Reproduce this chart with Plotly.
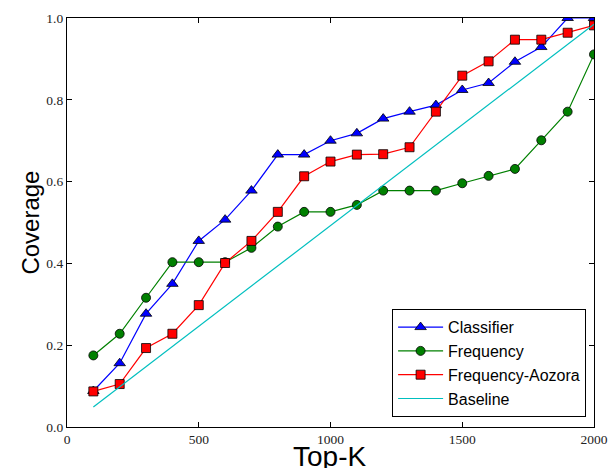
import plotly.graph_objects as go

topk = [100, 200, 300, 400, 500, 600, 700, 800, 900, 1000,
        1100, 1200, 1300, 1400, 1500, 1600, 1700, 1800, 1900, 2000]
classifier = [0.088, 0.156, 0.277, 0.350, 0.455, 0.507, 0.578, 0.666, 0.666, 0.700,
              0.718, 0.754, 0.771, 0.787, 0.824, 0.841, 0.893, 0.929, 1.000, 1.000]
frequency = [0.175, 0.228, 0.316, 0.403, 0.403, 0.403, 0.438, 0.490, 0.526, 0.526,
             0.543, 0.578, 0.578, 0.578, 0.596, 0.614, 0.631, 0.701, 0.771, 0.911]
freq_aozora = [0.087, 0.105, 0.193, 0.228, 0.298, 0.401, 0.455, 0.526, 0.613, 0.649,
               0.666, 0.667, 0.684, 0.771, 0.859, 0.894, 0.947, 0.947, 0.964, 0.982]
baseline_x = [100, 2000]
baseline_y = [0.049, 0.985]
x_title = "Top-K"
y_title = "Coverage"

fig = go.Figure()
fig.add_trace(go.Scatter(x=topk, y=classifier, mode="lines+markers", name="Classifier",
                         line=dict(color="#0000ff", width=1.2),
                         marker=dict(symbol="triangle-up", size=10, color="#0000ff",
                                     line=dict(color="black", width=0.8))))
fig.add_trace(go.Scatter(x=topk, y=frequency, mode="lines+markers", name="Frequency",
                         line=dict(color="#008000", width=1.2),
                         marker=dict(symbol="circle", size=9, color="#008000",
                                     line=dict(color="black", width=0.8))))
fig.add_trace(go.Scatter(x=topk, y=freq_aozora, mode="lines+markers", name="Frequency-Aozora",
                         line=dict(color="#ff0000", width=1.2),
                         marker=dict(symbol="square", size=9, color="#ff0000",
                                     line=dict(color="black", width=0.8))))
fig.add_trace(go.Scatter(x=baseline_x, y=baseline_y, mode="lines", name="Baseline",
                         line=dict(color="#00bfbf", width=1.2)))

axis_common = dict(showline=True, linecolor="black", linewidth=1.2, mirror="ticks",
                   ticks="inside", ticklen=5, tickcolor="black", showgrid=False,
                   zeroline=False, automargin=False,
                   tickfont=dict(family="Liberation Serif, serif", size=13.5, color="#222"))

fig.update_xaxes(range=[0, 2000], tickvals=[0, 500, 1000, 1500, 2000], **axis_common)
fig.update_yaxes(range=[0, 1.0], tickvals=[0, 0.2, 0.4, 0.6, 0.8, 1.0],
                 tickformat=".1f", ticklabelstandoff=0, **axis_common)

title_font = dict(family="Liberation Sans, Arial, sans-serif", color="black")
fig.add_annotation(text=x_title, xref="paper", yref="paper", x=0.499, y=-0.029,
                   xanchor="center", yanchor="top", showarrow=False,
                   font=dict(size=28, **title_font))
fig.add_annotation(text=y_title, xref="paper", yref="paper", x=-0.070, y=0.5,
                   xanchor="center", yanchor="middle", textangle=-90, showarrow=False,
                   font=dict(size=24, **title_font))

fig.update_layout(
    width=609, height=468,
    margin=dict(l=67, r=15, t=18, b=41),
    plot_bgcolor="white", paper_bgcolor="white",
    legend=dict(x=0.985, y=0.024, xanchor="right", yanchor="bottom",
                bordercolor="black", borderwidth=1, bgcolor="white",
                font=dict(family="Liberation Sans, Arial, sans-serif", size=16, color="black"),
                tracegroupgap=0, itemwidth=45),
)

fig.write_html("out.html", config={"displayModeBar": False},
               post_script="document.body.style.margin='0';document.body.style.overflow='hidden';")
